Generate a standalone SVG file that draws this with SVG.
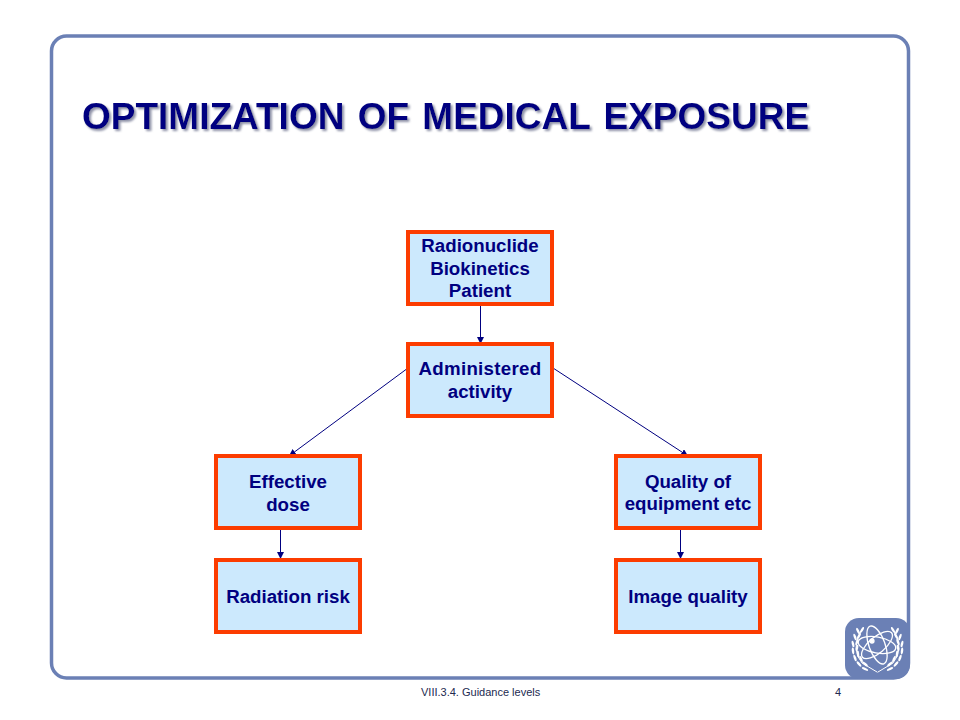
<svg xmlns="http://www.w3.org/2000/svg" width="960" height="720" viewBox="0 0 960 720">
<style>
text{font-family:"Liberation Sans",Arial,sans-serif}
.box{fill:#cce9fd;stroke:#fc3c00;stroke-width:4}
.lbl{font-size:18.700px;font-weight:bold;fill:#000080;text-anchor:middle}
.title{font-size:37px;font-weight:bold;word-spacing:3px;fill:#000080}
.c{stroke:#000080;stroke-width:1;fill:none;marker-end:url(#a)}
.foot{font-size:11px;fill:#222a50}
.w{fill:none;stroke:#fff;stroke-linecap:round}
.leaf{fill:#fff}
</style>
<defs>
<marker id="a" markerUnits="userSpaceOnUse" markerWidth="9" markerHeight="9" refX="7" refY="3.500" orient="auto"><path d="M0 0L7 3.500L0 7z" fill="#000080"/></marker>
<filter id="s" x="-5%" y="-20%" width="110%" height="140%"><feDropShadow dx="2" dy="2" stdDeviation="0.800" flood-color="#8f93a8"/></filter>
<ellipse id="lf" class="leaf" cx="0" cy="0" rx="1.200" ry="3.400"/>
<g id="wreath">
<use href="#lf" transform="translate(862 630) rotate(30)"/>
<use href="#lf" transform="translate(858 631) rotate(-25)"/>
<use href="#lf" transform="translate(859 636) rotate(28)"/>
<use href="#lf" transform="translate(855 637) rotate(-20)"/>
<use href="#lf" transform="translate(857 642) rotate(20)"/>
<use href="#lf" transform="translate(853 644) rotate(-12)"/>
<use href="#lf" transform="translate(857 648) rotate(10)"/>
<use href="#lf" transform="translate(853 651) rotate(-5)"/>
<use href="#lf" transform="translate(858 654) rotate(-5)"/>
<use href="#lf" transform="translate(855 658) rotate(-20)"/>
<use href="#lf" transform="translate(861 659) rotate(-25)"/>
<use href="#lf" transform="translate(859 664) rotate(-40)"/>
<use href="#lf" transform="translate(865 664) rotate(-50)"/>
<use href="#lf" transform="translate(865 669) rotate(-65)"/>
<path class="w" stroke-width="1" d="M860 632Q851 650 862 663L877 672"/>
</g>
</defs>
<rect width="960" height="720" fill="#fff"/>
<rect id="frame" x="51.500" y="36" width="857" height="642" rx="15" fill="#fff" stroke="#6b80b5" stroke-width="3.500"/>
<text class="title" x="82" y="129" filter="url(#s)">OPTIMIZATION OF MEDICAL EXPOSURE</text>
<g id="connectors">
<line class="c" x1="480.500" y1="305" x2="480.500" y2="344"/>
<line class="c" x1="408" y1="368" x2="289" y2="456"/>
<line class="c" x1="553" y1="368" x2="688" y2="456"/>
<line class="c" x1="280.500" y1="529" x2="280.500" y2="559"/>
<line class="c" x1="680.500" y1="529" x2="680.500" y2="559"/>
</g>
<g id="n1"><rect class="box" x="408" y="232" width="144" height="72"/><text class="lbl" x="480" y="252">Radionuclide</text><text class="lbl" x="480" y="275">Biokinetics</text><text class="lbl" x="480" y="297">Patient</text></g>
<g id="n2"><rect class="box" x="408" y="344" width="144" height="72"/><text class="lbl" x="480" y="375" letter-spacing="0.300">Administered</text><text class="lbl" x="480" y="398">activity</text></g>
<g id="n3"><rect class="box" x="216" y="456" width="144" height="72"/><text class="lbl" x="288" y="488">Effective</text><text class="lbl" x="288" y="511">dose</text></g>
<g id="n4"><rect class="box" x="616" y="456" width="144" height="72"/><text class="lbl" x="688" y="488">Quality of</text><text class="lbl" x="688" y="510">equipment etc</text></g>
<g id="n5"><rect class="box" x="216" y="560" width="144" height="72"/><text class="lbl" x="288" y="603">Radiation risk</text></g>
<g id="n6"><rect class="box" x="616" y="560" width="144" height="72"/><text class="lbl" x="688" y="603">Image quality</text></g>
<g id="logo">
<rect x="845" y="618" width="65" height="61" rx="14" fill="#6b80b5"/>
<g class="w" stroke-width="1.300">
<ellipse cx="877" cy="645" rx="8" ry="20" transform="rotate(-20 877 645)"/>
<ellipse cx="877" cy="645" rx="8" ry="19" transform="rotate(50 877 645)"/>
<ellipse cx="877" cy="645" rx="8" ry="19" transform="rotate(100 877 645)"/>
<circle cx="872" cy="641" r="2" fill="#fff"/>
</g>
<use href="#wreath"/>
<use href="#wreath" transform="matrix(-1 0 0 1 1755 0)"/>
</g>
<text class="foot" x="421" y="696">VIII.3.4. Guidance levels</text>
<text class="foot" x="835" y="696">4</text>
</svg>
